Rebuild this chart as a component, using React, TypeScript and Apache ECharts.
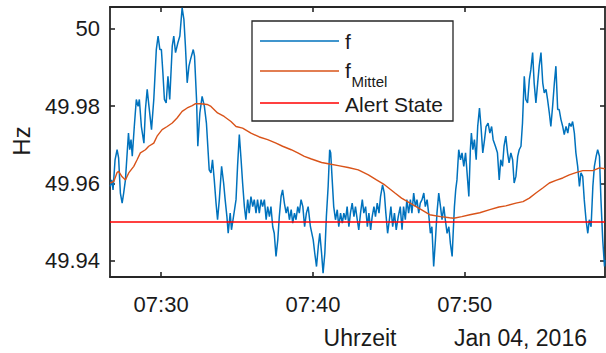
import React, { useEffect, useRef } from "react";
import * as echarts from "echarts";

// Frequency log of 04.01.2016, times in seconds after 07:00:00
const fSeconds = [
  1599, 1605, 1610, 1618, 1626, 1632, 1639, 1646, 1652, 1659,
  1665, 1671, 1676, 1681, 1686, 1694, 1702, 1709, 1714, 1722,
  1732, 1738, 1745, 1752, 1762, 1771, 1781, 1788, 1795, 1801,
  1807, 1813, 1820, 1827, 1834, 1844, 1850, 1857, 1866, 1874,
  1883, 1890, 1896, 1903, 1910, 1916, 1927, 1932, 1940, 1945,
  1953, 1962, 1971, 1979, 1990, 1997, 2003, 2010, 2017, 2023,
  2030, 2039, 2047, 2053, 2060, 2065, 2073, 2078, 2086, 2096,
  2102, 2109, 2116, 2122, 2129, 2135, 2142, 2148, 2155, 2162,
  2168, 2175, 2181, 2188, 2195, 2201, 2208, 2215, 2221, 2228,
  2234, 2241, 2247, 2254, 2261, 2267, 2274, 2280, 2287, 2294,
  2300, 2307, 2314, 2320, 2327, 2333, 2340, 2346, 2353, 2360,
  2367, 2374, 2381, 2390, 2401, 2407, 2414, 2421, 2427, 2434,
  2440, 2447, 2453, 2460, 2466, 2470, 2476, 2482, 2489, 2496,
  2502, 2509, 2516, 2522, 2529, 2535, 2542, 2548, 2555, 2562,
  2568, 2575, 2581, 2588, 2595, 2601, 2608, 2615, 2621, 2628,
  2634, 2641, 2647, 2654, 2661, 2667, 2675, 2682, 2688, 2695,
  2702, 2708, 2715, 2722, 2729, 2737, 2745, 2752, 2758, 2765,
  2771, 2778, 2785, 2791, 2798, 2805, 2811, 2818, 2824, 2831,
  2838, 2844, 2851, 2857, 2864, 2870, 2877, 2884, 2890, 2897,
  2904, 2910, 2917, 2923, 2930, 2937, 2943, 2950, 2954, 2959,
  2964, 2969, 2976, 2983, 2989, 2996, 3003, 3009, 3016, 3022,
  3026, 3032, 3038, 3045, 3051, 3058, 3064, 3071, 3078, 3084,
  3092, 3099, 3106, 3112, 3121, 3129, 3136, 3142, 3149, 3155,
  3162, 3169, 3175, 3182, 3189, 3195, 3202, 3209, 3215, 3222,
  3228, 3235, 3241, 3248, 3255, 3261, 3268, 3274, 3281, 3288,
  3294, 3301, 3308, 3314, 3321, 3327, 3334, 3340, 3347, 3354,
  3360, 3367, 3373, 3380, 3387, 3393, 3400, 3407, 3413, 3420,
  3426, 3433, 3439, 3446, 3453, 3459, 3466, 3472, 3479, 3486,
  3492, 3499, 3506, 3512, 3519, 3525, 3532, 3538, 3545, 3552,
  3554,
];

// Measured grid frequency f in Hz
const fHz = [
  49.9592, 49.9609, 49.9583, 49.9661, 49.9687, 49.9666, 49.9575, 49.9549, 49.9575, 49.9609,
  49.967, 49.973, 49.9687, 49.9713, 49.967, 49.9747, 49.9817, 49.9799, 49.9817, 49.9747,
  49.9704, 49.9791, 49.9843, 49.9799, 49.9739, 49.9817, 49.9946, 49.9981, 49.9946, 49.9946,
  49.9886, 49.9817, 49.9808, 49.9877, 49.9817, 49.9955, 49.9981, 49.9938, 49.9963, 49.9981,
  50.0054, 50.0024, 49.9955, 49.986, 49.9903, 49.992, 49.9946, 49.9929, 49.9817, 49.9696,
  49.9782, 49.9825, 49.9799, 49.9756, 49.9635, 49.9627, 49.9661, 49.9609, 49.9549, 49.9506,
  49.9558, 49.9644, 49.9601, 49.9558, 49.9514, 49.9471, 49.9523, 49.948, 49.9514, 49.9558,
  49.9644, 49.9726, 49.9661, 49.9601, 49.954, 49.9506, 49.9558, 49.9523, 49.9566, 49.954,
  49.9558, 49.9523, 49.9558, 49.9523, 49.9558, 49.954, 49.9558, 49.9506, 49.954, 49.9514,
  49.954, 49.9488, 49.9471, 49.9411, 49.9454, 49.9514, 49.9566, 49.9583, 49.9549, 49.9523,
  49.954, 49.9506, 49.9532, 49.9497, 49.9523, 49.9506, 49.954, 49.9523, 49.9558, 49.954,
  49.9488, 49.9523, 49.954, 49.9488, 49.9454, 49.942, 49.9385, 49.9437, 49.9471, 49.942,
  49.9368, 49.942, 49.9514, 49.9592, 49.9687, 49.9679, 49.9609, 49.954, 49.9506, 49.9532,
  49.9488, 49.9523, 49.9497, 49.9523, 49.9506, 49.954, 49.9488, 49.9523, 49.9549, 49.9514,
  49.954, 49.9506, 49.948, 49.9523, 49.9558, 49.9523, 49.954, 49.9488, 49.9523, 49.948,
  49.9514, 49.954, 49.9514, 49.9549, 49.9523, 49.9566, 49.9596, 49.9575, 49.9523, 49.9471,
  49.9506, 49.954, 49.9488, 49.9523, 49.948, 49.9514, 49.954, 49.948, 49.954, 49.9506,
  49.9558, 49.9523, 49.9558, 49.9523, 49.9575, 49.954, 49.9558, 49.9523, 49.9549, 49.9558,
  49.9575, 49.954, 49.9558, 49.9523, 49.9471, 49.9488, 49.9385, 49.9454, 49.9523, 49.9575,
  49.954, 49.9506, 49.954, 49.9506, 49.9471, 49.9488, 49.9445, 49.9411, 49.9471, 49.954,
  49.9583, 49.9609, 49.9687, 49.9661, 49.9679, 49.9644, 49.9679, 49.9627, 49.9566, 49.9687,
  49.973, 49.9687, 49.9713, 49.9661, 49.9747, 49.9795, 49.9747, 49.9679, 49.9713, 49.9747,
  49.9756, 49.973, 49.9747, 49.9713, 49.9696, 49.9679, 49.9609, 49.9661, 49.9644, 49.9696,
  49.9722, 49.9679, 49.9653, 49.9679, 49.9661, 49.9601, 49.9618, 49.967, 49.9687, 49.9696,
  49.9756, 49.9877, 49.9817, 49.9808, 49.9868, 49.9894, 49.9938, 49.986, 49.9808, 49.986,
  49.9903, 49.9938, 49.986, 49.9834, 49.9843, 49.9817, 49.9782, 49.9747, 49.9799, 49.986,
  49.9903, 49.9791, 49.9791, 49.9765, 49.9747, 49.9726, 49.9747, 49.973, 49.9756, 49.9747,
  49.976, 49.973, 49.9679, 49.9644, 49.9592, 49.9627, 49.9618, 49.9558, 49.9506, 49.9471,
  49.9506, 49.9488, 49.9592, 49.9644, 49.967, 49.9687, 49.967, 49.9558, 49.9454, 49.9385,
  49.9402,
];

// Running mean f_Mittel
const meanSeconds = [
  1599, 1613, 1626, 1632, 1646, 1659, 1672, 1692, 1705, 1718,
  1738, 1751, 1771, 1784, 1804, 1824, 1844, 1863, 1883, 1903,
  1923, 1936, 1956, 1982, 1997, 2023, 2049, 2076, 2096, 2122,
  2155, 2188, 2221, 2254, 2280, 2314, 2340, 2366, 2394, 2434,
  2466, 2500, 2539, 2579, 2619, 2651, 2684, 2724, 2750, 2794,
  2828, 2861, 2904, 2940, 2956, 2988, 3020, 3059, 3099, 3135,
  3162, 3202, 3230, 3255, 3281, 3308, 3334, 3360, 3387, 3413,
  3439, 3466, 3506, 3532, 3554,
];
const meanHz = [
  49.9601, 49.9605, 49.9628, 49.9631, 49.9617, 49.9609, 49.9627, 49.9644, 49.9661, 49.9679,
  49.9687, 49.9696, 49.9704, 49.9722, 49.9739, 49.9747, 49.9756, 49.9769, 49.9786, 49.9795,
  49.9801, 49.9806, 49.9806, 49.9804, 49.9799, 49.9782, 49.9773, 49.976, 49.9747, 49.9743,
  49.973, 49.972, 49.9713, 49.9704, 49.9696, 49.9687, 49.9679, 49.967, 49.9663, 49.9654,
  49.965, 49.9646, 49.9641, 49.9635, 49.9622, 49.9609, 49.9596, 49.9575, 49.9562, 49.9545,
  49.9532, 49.9519, 49.9514, 49.9511, 49.951, 49.9514, 49.9519, 49.9524, 49.9532, 49.9539,
  49.9542, 49.9549, 49.9553, 49.9562, 49.9575, 49.9588, 49.9601, 49.9608, 49.9614, 49.9622,
  49.9628, 49.9633, 49.9633, 49.964, 49.9638,
];

// Alert threshold
const alertHz = 49.95;

// Axis extents and ticks
const timeRange = [1598, 3554];
const timeTicks = [1800, 2400, 3000];
const hzRange = [49.9358, 50.0056];
const hzTicks = [49.94, 49.96, 49.98, 50];
const dateLabel = "Jan 04, 2016";

const FONT = "'Liberation Sans', Arial, Helvetica, sans-serif";
const INK = "#262626";
const BLUE = "#0072BD";
const ORANGE = "#D95319";
const RED = "#FF0000";

const fmtTime = (v: number) => {
  const total = Math.round(v / 60);
  const h = 7 + Math.floor(total / 60);
  const m = total % 60;
  return String(h).padStart(2, "0") + ":" + String(m).padStart(2, "0");
};
const fmtHz = (v: number) => (Math.abs(v - 50) < 1e-9 ? "50" : v.toFixed(2));

export default function App() {
  const ref = useRef<HTMLDivElement>(null);

  useEffect(() => {
    if (!ref.current) return;
    const chart = echarts.init(ref.current, undefined, { renderer: "svg" });

    const gridLeft = 110;
    const gridTop = 7;
    const gridWidth = 495;
    const gridHeight = 270;

    const xBase = {
      type: "value" as const,
      min: timeRange[0],
      max: timeRange[1],
      splitLine: { show: false },
      axisLine: { show: true, onZero: false, lineStyle: { color: INK, width: 1.8 } },
      axisTick: { show: true, inside: true, length: 5, customValues: timeTicks, lineStyle: { color: INK, width: 1.6 } },
    };
    const yBase = {
      type: "value" as const,
      min: hzRange[0],
      max: hzRange[1],
      splitLine: { show: false },
      axisLine: { show: true, onZero: false, lineStyle: { color: INK, width: 1.8 } },
      axisTick: { show: true, inside: true, length: 5, customValues: hzTicks, lineStyle: { color: INK, width: 1.6 } },
    };

    const legendX = 252;
    const legendY = 21;
    const lineX0 = 260;
    const lineX1 = 339;
    const textX = 345;

    chart.setOption({
      animation: false,
      backgroundColor: "#ffffff",
      textStyle: { fontFamily: FONT },
      grid: { left: gridLeft, top: gridTop, width: gridWidth, height: gridHeight, containLabel: false },
      xAxis: [
        {
          ...xBase,
          position: "bottom",
          axisLabel: {
            show: true,
            customValues: timeTicks,
            formatter: fmtTime,
            fontSize: 22,
            color: "#1a1a1a",
            fontFamily: FONT,
            margin: 16,
          },
        },
        { ...xBase, position: "top", axisLabel: { show: false } },
      ],
      yAxis: [
        {
          ...yBase,
          position: "left",
          axisLabel: {
            show: true,
            customValues: hzTicks,
            formatter: fmtHz,
            fontSize: 22,
            color: "#1a1a1a",
            fontFamily: FONT,
            margin: 10,
          },
        },
        { ...yBase, position: "right", axisLabel: { show: false } },
      ],
      series: [
        {
          name: "f",
          type: "line",
          xAxisIndex: 0,
          yAxisIndex: 0,
          data: fSeconds.map((t, i) => [t, fHz[i]]),
          showSymbol: false,
          lineStyle: { color: BLUE, width: 1.5 },
          itemStyle: { color: BLUE },
          z: 2,
        },
        {
          name: "fMittel",
          type: "line",
          xAxisIndex: 0,
          yAxisIndex: 0,
          data: meanSeconds.map((t, i) => [t, meanHz[i]]),
          showSymbol: false,
          lineStyle: { color: ORANGE, width: 1.4 },
          itemStyle: { color: ORANGE },
          z: 3,
        },
        {
          name: "Alert State",
          type: "line",
          xAxisIndex: 0,
          yAxisIndex: 0,
          data: [
            [timeRange[0], alertHz],
            [timeRange[1], alertHz],
          ],
          showSymbol: false,
          lineStyle: { color: RED, width: 1.4 },
          itemStyle: { color: RED },
          z: 4,
        },
      ],
      graphic: [
        {
          type: "text",
          x: 21,
          y: 141,
          rotation: Math.PI / 2,
          style: { text: "Hz", font: `24px ${FONT}`, fill: "#1a1a1a", align: "center", verticalAlign: "middle" },
        },
        {
          type: "text",
          x: 360,
          y: 338,
          style: { text: "Uhrzeit", font: `23px ${FONT}`, fill: "#1a1a1a", align: "center", verticalAlign: "middle" },
        },
        {
          type: "text",
          x: 587,
          y: 338,
          style: { text: dateLabel, font: `23px ${FONT}`, fill: "#1a1a1a", align: "right", verticalAlign: "middle" },
        },
        {
          type: "group",
          z: 100,
          children: [
            {
              type: "rect",
              shape: { x: legendX, y: legendY, width: 201, height: 100 },
              style: { fill: "#ffffff", stroke: INK, lineWidth: 1.3 },
            },
            { type: "line", shape: { x1: lineX0, y1: 41, x2: lineX1, y2: 41 }, style: { stroke: BLUE, lineWidth: 1.4 } },
            { type: "line", shape: { x1: lineX0, y1: 71, x2: lineX1, y2: 71 }, style: { stroke: ORANGE, lineWidth: 1.4 } },
            { type: "line", shape: { x1: lineX0, y1: 103, x2: lineX1, y2: 103 }, style: { stroke: RED, lineWidth: 1.4 } },
            {
              type: "text",
              x: textX,
              y: 41,
              style: { text: "f", font: `21px ${FONT}`, fill: "#1a1a1a", align: "left", verticalAlign: "middle" },
            },
            {
              type: "text",
              x: textX,
              y: 70,
              style: { text: "f", font: `21px ${FONT}`, fill: "#1a1a1a", align: "left", verticalAlign: "middle" },
            },
            {
              type: "text",
              x: textX + 6.5,
              y: 81,
              style: { text: "Mittel", font: `15px ${FONT}`, fill: "#1a1a1a", align: "left", verticalAlign: "middle" },
            },
            {
              type: "text",
              x: textX,
              y: 104,
              style: { text: "Alert State", font: `21px ${FONT}`, fill: "#1a1a1a", align: "left", verticalAlign: "middle" },
            },
          ],
        },
      ],
    });

    return () => chart.dispose();
  }, []);

  return (
    <div
      ref={ref}
      style={{ position: "absolute", left: 0, top: 0, width: 606, height: 353, background: "#ffffff" }}
    />
  );
}
